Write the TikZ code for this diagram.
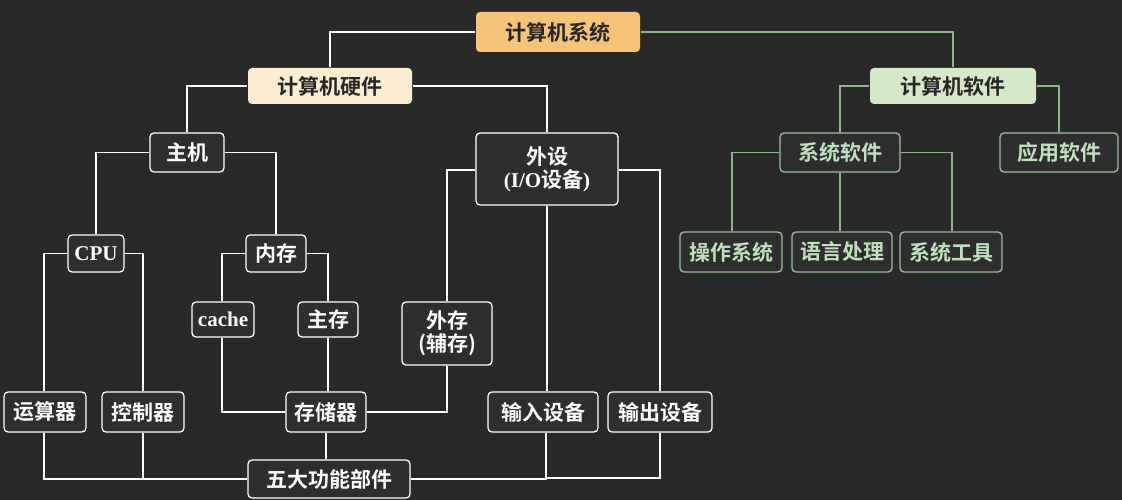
\documentclass[tikz,border=0pt]{standalone}
\usepackage{fontspec}
\setmainfont{Noto Sans CJK SC}[BoldFont={Noto Sans CJK SC Bold}]
\newfontfamily\lat{Liberation Serif}
\begin{document}
\begin{tikzpicture}[x=1pt,y=-1pt,
  bx/.style={draw=white!85,line width=1.3pt,rounded corners=4pt,fill=black!82,text=white,inner sep=0pt,font=\bfseries\fontsize{21}{23}\selectfont,align=center},
  sw/.style={bx,draw=green!20!white!75!black,text=green!15!white!88!black},
  ln/.style={draw=white!80,line width=1.1pt},
  gl/.style={draw=green!20!white!70!black,line width=1.1pt}]
\fill[black!84] (0,0) rectangle (1122,500);
\def\B#1#2#3#4#5#6#7{\node[#1,minimum width={(#5)-(#3)},minimum height={(#6)-(#4)}] (#2) at ({((#3)+(#5))/2},{((#4)+(#6))/2}) {#7};}
\B{bx,fill={rgb,255:red,244;green,196;blue,120},text=black!85,draw=none}{sys}{476}{12}{640}{52}{计算机系统}
\B{bx,fill={rgb,255:red,251;green,237;blue,208},text=black!85,draw=none}{hw}{248}{68}{412}{104}{计算机硬件}
\B{bx,fill={rgb,255:red,213;green,232;blue,200},text=black!85,draw=none}{sf}{870}{68}{1036}{104}{计算机软件}
\B{bx}{zj}{150}{133}{224}{172}{主机}
\B{bx}{ws}{476}{133}{618}{205}{外设\\{\lat (I/O}设备{\lat )}}
\B{sw}{xt}{780}{133}{900}{172}{系统软件}
\B{sw}{yy}{1000}{133}{1118}{172}{应用软件}
\B{bx}{cpu}{68}{235}{124}{272}{\lat CPU}
\B{bx}{nc}{246}{235}{306}{272}{内存}
\B{sw}{cz}{680}{232}{782}{272}{操作系统}
\B{sw}{yc}{792}{232}{892}{272}{语言处理}
\B{sw}{gj}{900}{232}{1002}{272}{系统工具}
\B{bx}{ca}{192}{302}{254}{337}{\lat cache}
\B{bx}{zc}{298}{302}{358}{337}{主存}
\B{bx}{wc}{402}{302}{492}{365}{外存\\(辅存)}
\B{bx}{ys}{4}{392}{86}{432}{运算器}
\B{bx}{kz}{102}{392}{184}{432}{控制器}
\B{bx}{cc}{286}{392}{366}{432}{存储器}
\B{bx}{sr}{488}{392}{598}{432}{输入设备}
\B{bx}{sc}{608}{392}{712}{432}{输出设备}
\B{bx}{wd}{248}{460}{410}{498}{五大功能部件}
\draw[ln] (sys.west) -| (hw.north);
\draw[gl] (sys.east) -| (sf.north);
\draw[ln] (hw.west) -| (zj.north);
\draw[ln] (hw.east) -| (ws.north);
\draw[ln] (zj.west) -| (cpu.north);
\draw[ln] (zj.east) -| (nc.north);
\draw[ln] (cpu.west) -| (ys.north -| 44,0);
\draw[ln] (cpu.east) -| (kz.north);
\draw[ln] (nc.west) -| (ca.north -| 222,0);
\draw[ln] (nc.east) -| (zc.north);
\draw[ln] (ca.south -| 222,0) |- (cc.west);
\draw[ln] (zc.south) -- (cc.north -| zc.south);
\draw[ln] (wc.south) |- (cc.east);
\draw[ln] (ws.west |- 0,170) -| (wc.north);
\draw[ln] (ws.south) -- (sr.north -| ws.south);
\draw[ln] (ws.east |- 0,170) -| (sc.north -| 660,0);
\draw[ln] (ys.south -| 44,0) |- (wd.west);
\draw[ln] (kz.south -| 143,0) -- (143,478);
\draw[ln] (cc.south -| 326,0) -- (wd.north -| 326,0);
\draw[ln] (sr.south -| 546,0) |- (wd.east);
\draw[ln] (sc.south -| 660,0) |- (546,478);
\draw[gl] (sf.west) -| (xt.north);
\draw[gl] (sf.east) -| (yy.north);
\draw[gl] (xt.west) -| (cz.north -| 732,0);
\draw[gl] (xt.south) -- (yc.north -| xt.south);
\draw[gl] (xt.east) -| (gj.north -| 952,0);
\end{tikzpicture}
\end{document}
